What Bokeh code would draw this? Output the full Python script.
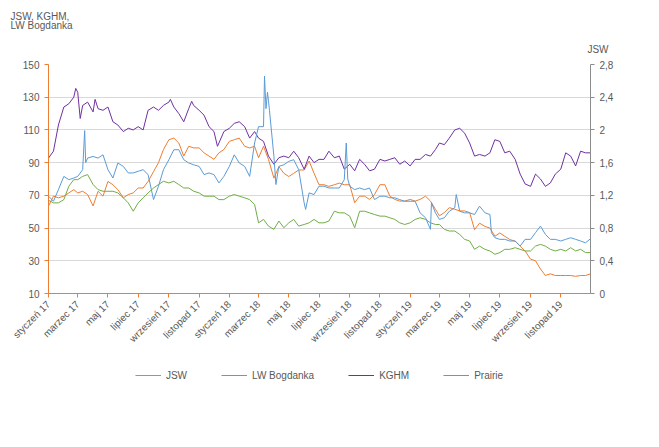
import math
import pandas as pd
from bokeh.plotting import figure
from bokeh.layouts import column
from bokeh.models import (Range1d, LinearAxis, FixedTicker, Legend, LegendItem,
                          Title, CustomJSTickFormatter, ColumnDataSource)
from bokeh.embed import file_html
from bokeh.resources import INLINE

# ---------------- data ----------------
dates = [f"{y}-{m:02d}-{d:02d}" for y in (2017, 2018, 2019)
         for m in range(1, 13) for d in (1, 11, 21)] + ["2019-12-31"]

# JSW (orange, right axis)
jsw = [1.07, 1.19, 1.17, 1.19, 1.23, 1.27, 1.23, 1.25, 1.21, 1.07, 1.25, 1.19,
       1.37, 1.33, 1.27, 1.17, 1.21, 1.23, 1.29, 1.29, 1.37, 1.49, 1.60, 1.76,
       1.88, 1.90, 1.84, 1.68, 1.80, 1.78, 1.78, 1.72, 1.68, 1.64, 1.72, 1.76,
       1.86, 1.88, 1.90, 1.80, 1.78, 1.80, 1.66, 1.80, 1.64, 1.41, 1.55, 1.47,
       1.43, 1.47, 1.51, 1.51, 1.62, 1.47, 1.33, 1.33, 1.31, 1.33, 1.35, 1.33,
       1.33, 1.11, 1.19, 1.19, 1.15, 1.21, 1.33, 1.33, 1.19, 1.15, 1.13, 1.13,
       1.15, 1.13, 1.15, 1.19, 1.13, 1.03, 0.95, 0.99, 1.05, 1.03, 1.01, 1.01,
       0.99, 0.78, 0.86, 0.82, 0.80, 0.70, 0.74, 0.70, 0.66, 0.64, 0.58, 0.52,
       0.42, 0.40, 0.30, 0.22, 0.24, 0.22, 0.22, 0.22, 0.22, 0.21, 0.22, 0.22,
       0.24]

# LW Bogdanka (green, left axis)
bogdanka = [67, 65.4, 65.4, 67.4, 75.6, 79.6, 79.6, 81.6, 82.7, 76.6, 73.5, 72.5,
            72.5, 72.5, 71.5, 68.5, 65.4, 60.3, 65.4, 68.5, 71.5, 74.5, 76.6, 78.6,
            77.6, 78.6, 76.6, 74.5, 74.5, 72.5, 71.5, 69.5, 69.5, 69.5, 67.4, 67.4,
            69.5, 70.5, 69.5, 68.5, 67.4, 64.4, 53.2, 55.3, 51.2, 49.2, 54.3, 50.2,
            53.2, 55.3, 51.2, 52.2, 53.2, 55.3, 53.2, 53.2, 54.3, 60.3, 59.3, 59.3,
            57.3, 50.2, 60.3, 60.3, 59.3, 58.3, 57.3, 57.3, 56.3, 55.3, 53.2, 52.2,
            53.2, 55.3, 56.3, 55.3, 53.2, 52.2, 52.2, 49.2, 48.2, 48.2, 46.1, 43.1,
            42.1, 37, 39, 37, 36, 34, 35, 37, 37, 38, 37, 36,
            36, 39, 40, 39, 37, 36, 37, 36, 38, 36, 37, 35,
            35]

# KGHM (purple, left axis)
kghm = [92.8, 97, 113, 124, 126, 130, 133, 125, 127, 121, 123, 122,
        124, 115, 113, 109, 111, 110, 112, 110, 122, 124, 122, 125,
        127, 124, 120, 115, 123, 125, 122, 119, 112, 109, 102, 109,
        111, 114, 115, 112, 105, 109, 105, 103, 94, 89, 93, 94,
        93, 97, 93, 86, 94, 90, 92, 92, 97, 93, 94, 86,
        89, 85, 92, 89, 85, 86, 92, 91, 92, 93, 89, 91,
        88, 92, 92, 95, 94, 98, 102, 101, 105, 110, 111, 108,
        102, 94, 95, 94, 96, 104, 103, 96, 97, 92, 83, 77,
        75.5, 83, 80, 75.5, 77.6, 83, 86, 96, 94, 88, 97, 96,
        96]
kghm_extra_dates = ["2017-02-25", "2017-03-06", "2017-04-05", "2017-09-04",
                    "2017-10-17", "2017-12-08"]
kghm_extra = [135.4, 117, 128.7, 128.7, 127.5, 100]

# Prairie (blue, left axis)
prairie = [69.5, 66.4, 73.5, 81.6, 79.6, 80.6, 81.6, 85.7, 92.8, 93.8, 92.8, 94.8,
           85.7, 80.6, 89.8, 87.7, 83.7, 83.7, 84.7, 85.7, 82.7, 67.4, 75.6, 85.7,
           91.8, 97.9, 97.9, 91.8, 89.8, 88.7, 87.7, 82.7, 83.7, 82.7, 77.6, 81.6,
           87.7, 94.8, 89.8, 87.7, 81.6, 102, 112, 112, 128, 93.8, 87.7, 88.7,
           90.8, 91.8, 85.7, 65.4, 71.5, 70.5, 75.6, 75.6, 74.5, 74.5, 74.5, 79.6,
           75.6, 73.5, 74.5, 73.5, 74.5, 67.4, 69.5, 69.5, 68.5, 68.5, 67.4, 66.4,
           66.4, 66.4, 59.3, 56.3, 49.2, 59.3, 55.3, 56.3, 60.3, 62.4, 60.3, 59.3,
           59.3, 58.3, 63.4, 59.3, 58.3, 44.1, 43.1, 43.1, 42.1, 42.1, 39, 43.1,
           43.1, 47.2, 51.2, 46.1, 43.1, 43.1, 42.1, 43.1, 44.1, 43.1, 42.1, 41,
           43.5]
prairie_extra_dates = ["2017-03-15", "2017-03-17", "2018-03-13", "2018-03-16",
                       "2018-03-19", "2018-03-23", "2018-04-05", "2018-06-04",
                       "2018-08-25", "2018-08-28", "2019-02-13", "2019-04-04",
                       "2019-06-14"]
prairie_extra = [109.6, 90, 142.9, 123, 133, 122, 76.6, 61.4, 102, 80, 65.4, 70.5, 47.2]

series_names = ["JSW", "LW Bogdanka", "KGHM", "Prairie"]
colors = ["#ED7D31", "#70AD47", "#7030A0", "#5B9BD5"]

left_ticks = [10, 30, 50, 70, 90, 110, 130, 150]
right_ticks = [0, 0.4, 0.8, 1.2, 1.6, 2.0, 2.4, 2.8]
month_names = ["styczeń", "luty", "marzec", "kwiecień", "maj", "czerwiec", "lipiec",
               "sierpień", "wrzesień", "październik", "listopad", "grudzień"]
x_tick_dates = [f"{y}-{m:02d}-01" for y in (2017, 2018, 2019) for m in (1, 3, 5, 7, 9, 11)]


def to_ms(s):
    return pd.Timestamp(s).value // 10**6


def make_source(ds, vs, extra_d=(), extra_v=()):
    pairs = sorted(zip(list(ds) + list(extra_d), list(vs) + list(extra_v)))
    return ColumnDataSource(dict(x=[to_ms(d) for d, _ in pairs], y=[v for _, v in pairs]))


GRAY = "#595959"
FONT = "Liberation Sans"

x0, x1 = to_ms("2017-01-01"), to_ms("2019-12-31")
p = figure(width=651, height=355, output_backend="svg", toolbar_location=None,
           x_range=Range1d(x0, x1), y_range=Range1d(10, 150),
           min_border_left=48, min_border_right=29, min_border_top=64,
           min_border_bottom=62)
p.outline_line_color = None
p.background_fill_color = "white"
p.border_fill_color = "white"

p.extra_y_ranges = {"r": Range1d(0, 2.8)}

r_jsw = p.line("x", "y", source=make_source(dates, jsw), color=colors[0],
               line_width=1, y_range_name="r")
r_bog = p.line("x", "y", source=make_source(dates, bogdanka), color=colors[1], line_width=1)
r_kghm = p.line("x", "y", source=make_source(dates, kghm, kghm_extra_dates, kghm_extra),
                color=colors[2], line_width=1)
r_pr = p.line("x", "y", source=make_source(dates, prairie, prairie_extra_dates, prairie_extra),
              color=colors[3], line_width=1)

# axes
xa = p.xaxis[0]
xa.ticker = FixedTicker(ticks=[to_ms(d) for d in x_tick_dates])
xa.formatter = CustomJSTickFormatter(args=dict(names=month_names), code="""
    const d = new Date(tick);
    return names[d.getUTCMonth()] + ' ' + String(d.getUTCFullYear() % 100);
""")
xa.major_label_orientation = math.pi / 4

ya = p.yaxis[0]
ya.ticker = FixedTicker(ticks=left_ticks)

ra = LinearAxis(y_range_name="r", ticker=FixedTicker(ticks=right_ticks))
ra.formatter = CustomJSTickFormatter(code="""
    let s = (Math.round(tick * 10) / 10).toString();
    return s.replace('.', ',');
""")
p.add_layout(ra, "right")

for ax, c in ((xa, "#ED7D31"), (ya, "#ED7D31"), (ra, "#8C8C8C")):
    ax.axis_line_color = c
    ax.axis_line_width = 1
    ax.major_tick_line_color = c
    ax.major_tick_out = 4
    ax.major_tick_in = 0
    ax.minor_tick_line_color = None
    ax.major_label_text_color = GRAY
    ax.major_label_text_font = FONT
    ax.major_label_text_font_size = "10px"
    ax.major_label_standoff = 5

p.xgrid.visible = False
p.ygrid.ticker = FixedTicker(ticks=left_ticks)
p.ygrid.grid_line_color = "#D9D9D9"
p.ygrid.grid_line_width = 1

# titles (closest to the frame first)
p.add_layout(Title(text="JSW", align="right", offset=-18, standoff=20,
                   text_font=FONT, text_font_size="10px", text_font_style="normal",
                   text_color=GRAY), "above")
p.add_layout(Title(text="JSW, KGHM,\nLW Bogdanka", align="left", offset=-38, standoff=0,
                   text_font=FONT, text_font_size="10px", text_font_style="normal",
                   text_line_height=0.85, text_color=GRAY), "above")

# legend in its own strip below the chart
lf = figure(width=651, height=40, output_backend="svg", toolbar_location=None,
            x_range=Range1d(0, 1), y_range=Range1d(0, 1),
            min_border_left=0, min_border_right=61, min_border_top=0, min_border_bottom=0)
lf.axis.visible = False
lf.grid.visible = False
lf.outline_line_color = None
dummies = [lf.line(x=[5, 6], y=[5, 6], color=c, line_width=1) for c in colors]
legend = Legend(items=[LegendItem(label=n, renderers=[r]) for n, r in zip(series_names, dummies)],
                orientation="horizontal", location="center",
                label_text_font=FONT, label_text_font_size="10px",
                label_text_color=GRAY, glyph_width=26,
                label_standoff=5, spacing=34, border_line_color=None,
                background_fill_alpha=0, margin=0, padding=0)
lf.add_layout(legend)

open("out.html", "w").write(file_html(column(p, lf, spacing=0), INLINE))
